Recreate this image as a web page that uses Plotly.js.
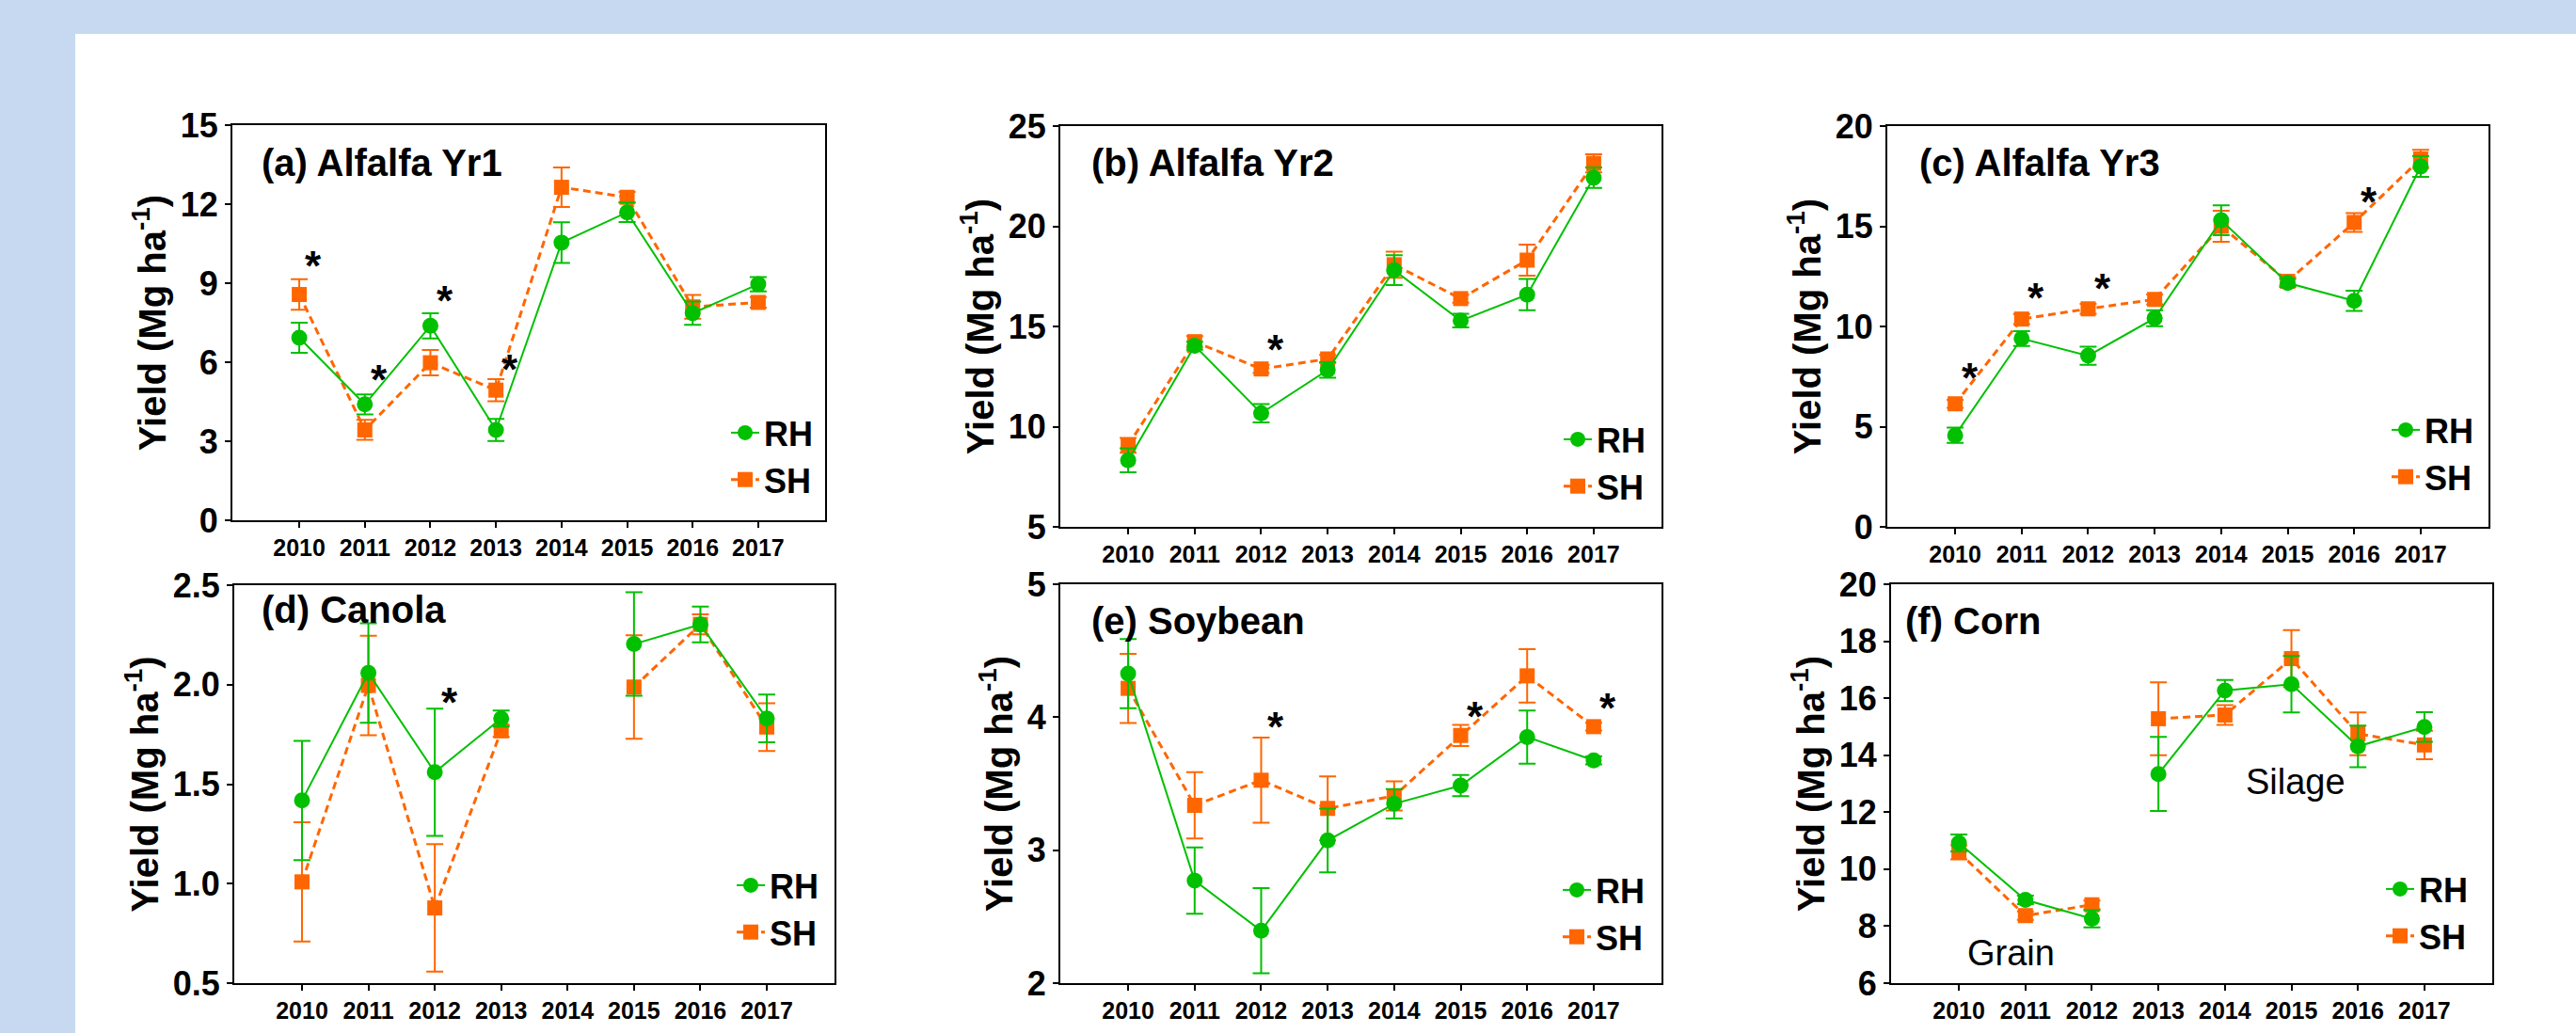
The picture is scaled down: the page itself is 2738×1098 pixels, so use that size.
<!DOCTYPE html>
<html>
<head>
<meta charset="utf-8">
<script src="https://cdn.plot.ly/plotly-3.0.1.min.js"></script>
<style>
  html, body { margin: 0; padding: 0; background: #c6d9f1; }
  #chart { width: 2738px; height: 1098px; }
</style>
</head>
<body>
<div id="chart"></div>
<script>
// ---- Yield data (Mg ha-1), mean and standard error, RH vs SH ----
const years = [2010, 2011, 2012, 2013, 2014, 2015, 2016, 2017];
const yearLabels = ['2010', '2011', '2012', '2013', '2014', '2015', '2016', '2017'];

// (a) Alfalfa, first year
const alfalfaYr1RH = [6.93, 4.40, 7.38, 3.43, 10.54, 11.69, 7.86, 8.96];
const alfalfaYr1RHErr = [0.57, 0.38, 0.48, 0.42, 0.77, 0.37, 0.44, 0.27];
const alfalfaYr1SH = [8.57, 3.43, 5.98, 4.94, 12.64, 12.26, 8.10, 8.27];
const alfalfaYr1SHErr = [0.58, 0.38, 0.48, 0.42, 0.75, 0.20, 0.45, 0.20];
const alfalfaYr1Ticks = [0, 3, 6, 9, 12, 15];

// (b) Alfalfa, second year
const alfalfaYr2RH = [8.32, 14.04, 10.67, 12.83, 17.81, 15.29, 16.59, 22.42];
const alfalfaYr2RHErr = [0.60, 0.20, 0.46, 0.39, 0.75, 0.34, 0.78, 0.51];
const alfalfaYr2SH = [9.07, 14.24, 12.88, 13.38, 18.08, 16.39, 18.31, 23.14];
const alfalfaYr2SHErr = [0.37, 0.28, 0.20, 0.20, 0.65, 0.20, 0.77, 0.45];
const alfalfaYr2Ticks = [5, 10, 15, 20, 25];

// (c) Alfalfa, third year
const alfalfaYr3RH = [4.57, 9.40, 8.54, 10.41, 15.30, 12.17, 11.28, 17.98];
const alfalfaYr3RHErr = [0.38, 0.37, 0.45, 0.40, 0.75, 0.20, 0.50, 0.52];
const alfalfaYr3SH = [6.14, 10.37, 10.88, 11.35, 15.00, 12.25, 15.19, 18.36];
const alfalfaYr3SHErr = [0.20, 0.25, 0.25, 0.25, 0.77, 0.20, 0.47, 0.45];
const alfalfaYr3Ticks = [0, 5, 10, 15, 20];

// (d) Canola (no canola in 2014)
const canolaRH = [1.418, 2.059, 1.560, 1.830, null, 2.204, 2.303, 1.830];
const canolaRHErr = [0.30, 0.25, 0.32, 0.04, null, 0.26, 0.09, 0.12];
const canolaSH = [1.009, 1.996, 0.878, 1.768, null, 1.988, 2.303, 1.787];
const canolaSHErr = [0.30, 0.25, 0.32, 0.03, null, 0.26, 0.05, 0.12];
const canolaTicks = [0.5, 1.0, 1.5, 2.0, 2.5];

// (e) Soybean
const soybeanRH = [4.328, 2.771, 2.394, 3.073, 3.349, 3.486, 3.851, 3.675];
const soybeanRHErr = [0.26, 0.25, 0.32, 0.24, 0.11, 0.08, 0.20, 0.03];
const soybeanSH = [4.217, 3.337, 3.526, 3.314, 3.408, 3.863, 4.311, 3.929];
const soybeanSHErr = [0.26, 0.25, 0.32, 0.24, 0.11, 0.08, 0.20, 0.03];
const soybeanTicks = [2, 3, 4, 5];

// (f) Corn: grain 2010-2012, silage 2013-2017
const cornGrainYears = [2010, 2011, 2012];
const cornGrainRH = [10.92, 8.92, 8.26];
const cornGrainRHErr = [0.30, 0.15, 0.30];
const cornGrainSH = [10.59, 8.37, 8.75];
const cornGrainSHErr = [0.25, 0.15, 0.15];
const cornSilageYears = [2013, 2014, 2015, 2016, 2017];
const cornSilageRH = [13.34, 16.27, 16.49, 14.31, 14.99];
const cornSilageRHErr = [1.30, 0.37, 0.99, 0.73, 0.52];
const cornSilageSH = [15.28, 15.41, 17.39, 14.75, 14.36];
const cornSilageSHErr = [1.28, 0.35, 1.00, 0.75, 0.50];
const cornTicks = [6, 8, 10, 12, 14, 16, 18, 20];

// ---- Figure geometry and styling ----
const W = 2738, H = 1098;
const FONT = 'Liberation Sans, Arial, sans-serif';
const GREEN = '#00c000';
const ORANGE = '#ff6600';
const px2x = px => px / W;
const px2y = px => 1 - px / H;

// Plot boxes in pixels: [left, right], [top, bottom]
const panels = [
  { label: '(a) Alfalfa Yr1', box: [[247, 877], [133, 553]], yRange: [0, 15], yTicks: alfalfaYr1Ticks, tickFormat: '',
    labelAt: [276, 173], legendAt: [793, 485],
    segments: [{ x: years, rh: alfalfaYr1RH, rhErr: alfalfaYr1RHErr, sh: alfalfaYr1SH, shErr: alfalfaYr1SHErr }],
    stars: [[2010, 10.05], [2011, 5.75], [2012, 8.73], [2013, 6.11]] },
  { label: '(b) Alfalfa Yr2', box: [[1127, 1766], [134, 560]], yRange: [5, 25], yTicks: alfalfaYr2Ticks, tickFormat: '',
    labelAt: [1158, 173], legendAt: [1678, 492],
    segments: [{ x: years, rh: alfalfaYr2RH, rhErr: alfalfaYr2RHErr, sh: alfalfaYr2SH, shErr: alfalfaYr2SHErr }],
    stars: [[2012, 14.37]] },
  { label: '(c) Alfalfa Yr3', box: [[2006, 2645], [134, 560]], yRange: [0, 20], yTicks: alfalfaYr3Ticks, tickFormat: '',
    labelAt: [2038, 173], legendAt: [2558, 482],
    segments: [{ x: years, rh: alfalfaYr3RH, rhErr: alfalfaYr3RHErr, sh: alfalfaYr3SH, shErr: alfalfaYr3SHErr }],
    stars: [[2010, 7.96], [2011, 11.97], [2012, 12.40], [2016, 16.74]] },
  { label: '(d) Canola', box: [[249, 887], [622, 1045]], yRange: [0.5, 2.5], yTicks: canolaTicks, tickFormat: '.1f',
    labelAt: [276, 648], legendAt: [799, 966],
    segments: [{ x: years, rh: canolaRH, rhErr: canolaRHErr, sh: canolaSH, shErr: canolaSHErr }],
    stars: [[2012, 1.963]] },
  { label: '(e) Soybean', box: [[1127, 1766], [621, 1045]], yRange: [2, 5], yTicks: soybeanTicks, tickFormat: '',
    labelAt: [1158, 660], legendAt: [1677, 971],
    segments: [{ x: years, rh: soybeanRH, rhErr: soybeanRHErr, sh: soybeanSH, shErr: soybeanSHErr }],
    stars: [[2012, 4.005], [2015, 4.087], [2017, 4.146]] },
  { label: '(f) Corn', box: [[2010, 2649], [621, 1045]], yRange: [6, 20], yTicks: cornTicks, tickFormat: '',
    labelAt: [2023, 660], legendAt: [2552, 970],
    segments: [
      { x: cornGrainYears, rh: cornGrainRH, rhErr: cornGrainRHErr, sh: cornGrainSH, shErr: cornGrainSHErr },
      { x: cornSilageYears, rh: cornSilageRH, rhErr: cornSilageRHErr, sh: cornSilageSH, shErr: cornSilageSHErr }
    ],
    stars: [],
    notes: [['Silage', 2015.06, 13.08], ['Grain', 2010.78, 7.07]] }
];

const traces = [];
const annotations = [];
const layout = {
  width: W, height: H,
  margin: { l: 0, r: 0, t: 0, b: 0 },
  paper_bgcolor: '#c6d9f1',
  plot_bgcolor: '#ffffff',
  font: { family: FONT, color: '#000000' },
  showlegend: true,
  shapes: [{
    type: 'rect', xref: 'paper', yref: 'paper', layer: 'below',
    x0: px2x(80), x1: 1, y0: 0, y1: px2y(36),
    fillcolor: '#ffffff', line: { width: 0 }
  }],
  annotations: annotations
};

panels.forEach((p, i) => {
  const n = i === 0 ? '' : String(i + 1);
  const xa = 'x' + n, ya = 'y' + n, lg = 'legend' + n;

  p.segments.forEach((s, k) => {
    // SH first so the RH series sits on top
    traces.push({
      type: 'scatter', mode: 'lines+markers', name: 'SH',
      x: s.x, y: s.sh, xaxis: xa, yaxis: ya,
      legend: lg, legendgroup: 'SH' + n, legendrank: 2, showlegend: k === 0,
      connectgaps: false, cliponaxis: false,
      line: { color: ORANGE, width: 3, dash: '8px,5px' },
      marker: { symbol: 'square', size: 16, color: ORANGE },
      error_y: { type: 'data', array: s.shErr, visible: true, color: ORANGE, thickness: 2, width: 9 }
    });
    traces.push({
      type: 'scatter', mode: 'lines+markers', name: 'RH',
      x: s.x, y: s.rh, xaxis: xa, yaxis: ya,
      legend: lg, legendgroup: 'RH' + n, legendrank: 1, showlegend: k === 0,
      connectgaps: false, cliponaxis: false,
      line: { color: GREEN, width: 2 },
      marker: { symbol: 'circle', size: 17, color: GREEN },
      error_y: { type: 'data', array: s.rhErr, visible: true, color: GREEN, thickness: 2, width: 9 }
    });
  });

  layout['xaxis' + n] = {
    domain: [px2x(p.box[0][0]), px2x(p.box[0][1])], anchor: ya,
    range: [2008.98, 2018.02], tickmode: 'array', tickvals: years, ticktext: yearLabels,
    ticks: 'outside', ticklen: 6, tickwidth: 2, tickcolor: '#000000',
    showline: true, linewidth: 2, linecolor: '#000000', mirror: true,
    showgrid: false, zeroline: false, fixedrange: true,
    tickfont: { family: FONT, size: 25, weight: 'bold', color: '#000000' }
  };
  layout['yaxis' + n] = {
    domain: [px2y(p.box[1][1]), px2y(p.box[1][0])], anchor: xa,
    range: p.yRange, tickmode: 'array', tickvals: p.yTicks, tickformat: p.tickFormat,
    ticks: 'outside', ticklen: 6, tickwidth: 2, tickcolor: '#000000',
    showline: true, linewidth: 2, linecolor: '#000000', mirror: true,
    showgrid: false, zeroline: false, fixedrange: true,
    tickfont: { family: FONT, size: 36, weight: 'bold', color: '#000000' },
    title: { text: 'Yield (Mg ha<sup>-1</sup>)', standoff: 3,
             font: { family: FONT, size: 40, weight: 'bold', color: '#000000' } }
  };
  layout[lg] = {
    x: px2x(p.legendAt[0] - 21), xanchor: 'left',
    y: px2y(p.legendAt[1]), yanchor: 'middle',
    bgcolor: 'rgba(0,0,0,0)', borderwidth: 0, tracegroupgap: 0, itemwidth: 30,
    font: { family: FONT, size: 36, weight: 'bold', color: '#000000' }
  };

  annotations.push({
    xref: 'paper', yref: 'paper', x: px2x(p.labelAt[0]), y: px2y(p.labelAt[1]),
    xanchor: 'left', yanchor: 'middle', showarrow: false, text: p.label,
    font: { family: FONT, size: 40, weight: 'bold', color: '#000000' }
  });

  p.stars.forEach(([yr, lvl]) => {
    annotations.push({
      xref: xa, yref: ya, x: yr + 0.22, y: lvl, yshift: -11,
      xanchor: 'center', yanchor: 'middle', showarrow: false, text: '*',
      font: { family: FONT, size: 44, weight: 'bold', color: '#000000' }
    });
  });

  (p.notes || []).forEach(([txt, xv, yv]) => {
    annotations.push({
      xref: xa, yref: ya, x: xv, y: yv,
      xanchor: 'center', yanchor: 'middle', showarrow: false, text: txt,
      font: { family: FONT, size: 38, color: '#000000' }
    });
  });
});

Plotly.newPlot('chart', traces, layout, { displayModeBar: false, staticPlot: true });
</script>
</body>
</html>
